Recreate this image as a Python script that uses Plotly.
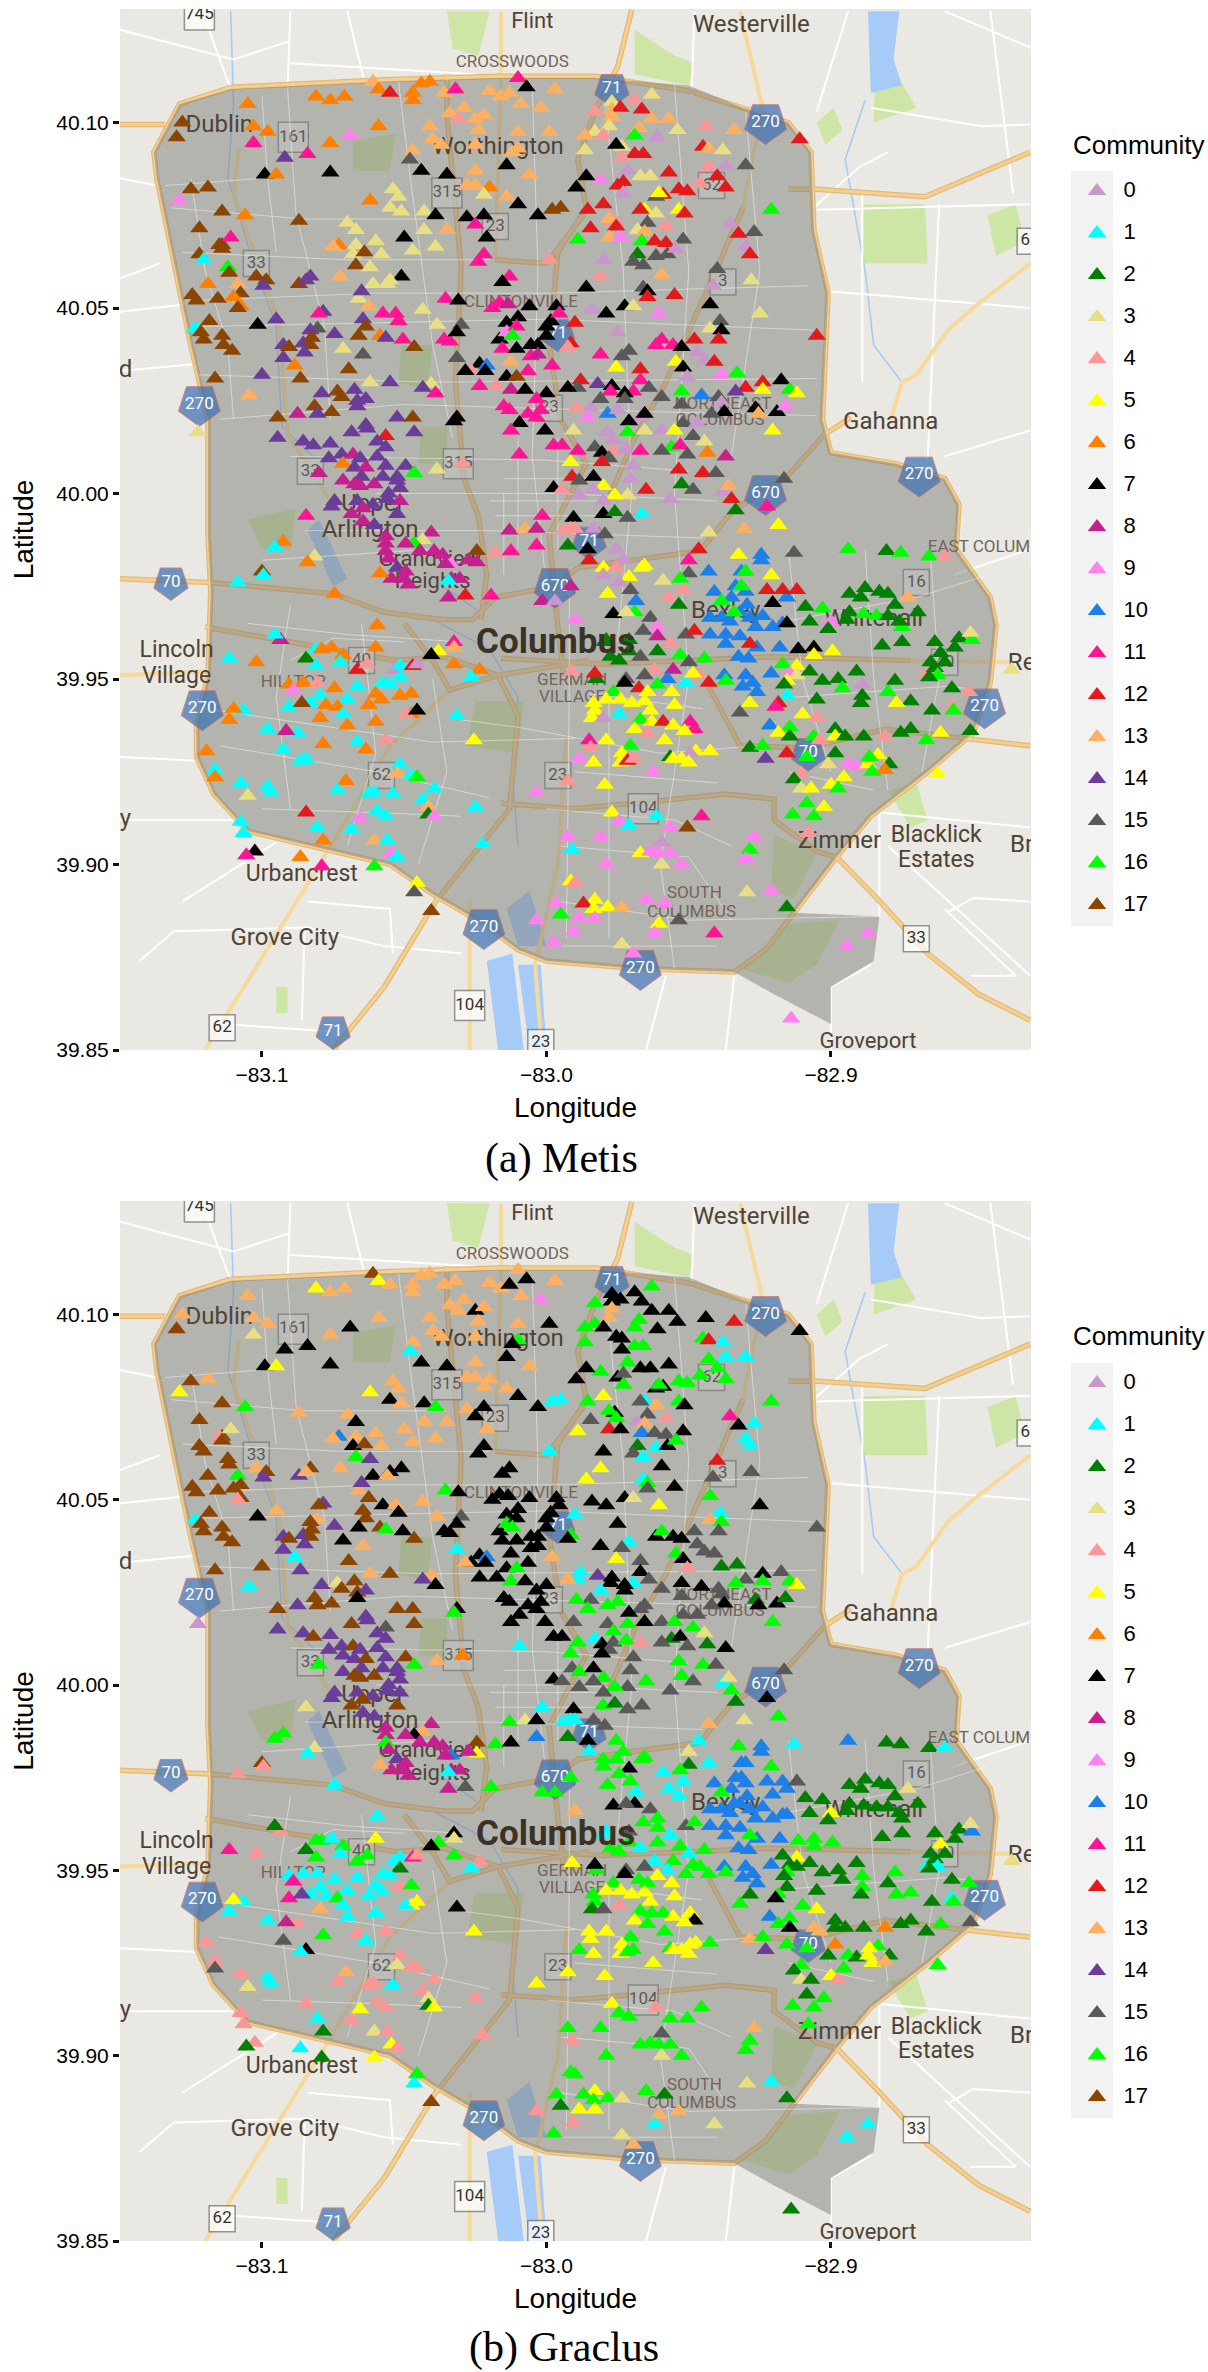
import plotly.graph_objects as go

W, H = 1208, 2372
COMMUNITIES = list(range(18))
PALETTE = ["#C997CB", "#00FFFF", "#008000", "#E8DE82", "#FB9696", "#FFFF00", "#FF7F00", "#000000", "#C5218E",
           "#FF80EE", "#1C80E8", "#FF1493", "#E31A1C", "#FDB062", "#6A3D9A", "#595959", "#00FF00", "#8B4500"]

# lon, lat, community under Metis, community under Graclus
NORTH_WEST = [
(-83.128,40.100,17,13),(-83.130,40.096,17,17),(-83.105,40.105,6,13),(-83.081,40.107,6,5),(-83.076,40.106,6,13),(-83.071,40.107,6,13),
(-83.061,40.111,13,17),(-83.059,40.109,6,5),(-83.055,40.108,12,13),(-83.047,40.108,6,13),(-83.047,40.106,6,13),(-83.044,40.1105,6,13),
(-83.041,40.111,6,13),(-83.036,40.108,13,13),(-83.032,40.109,11,13),(-83.020,40.1085,13,13),(-83.016,40.107,13,13),(-83.013,40.108,13,7),
(-83.010,40.112,11,13),(-83.007,40.1095,7,7),(-82.997,40.109,13,13),(-83.009,40.105,13,13),(-83.002,40.104,13,9),(-83.034,40.1025,13,13),
(-83.031,40.101,4,13),(-83.029,40.104,13,13),(-83.025,40.101,13,7),(-83.022,40.102,13,13),(-83.024,40.098,13,13),(-83.041,40.099,13,13),
(-83.040,40.0955,13,13),(-83.037,40.094,13,13),(-83.047,40.0925,13,13),(-83.010,40.0975,13,13),(-82.999,40.0975,13,7),(-83.010,40.093,13,16),
(-83.025,40.094,13,13),(-83.014,40.0885,7,7),(-83.012,40.092,13,7),(-83.006,40.086,13,13),(-83.025,40.087,13,13),(-83.035,40.086,7,7),
(-83.044,40.087,7,7),(-83.048,40.090,15,1),(-83.028,40.083,13,13),(-83.025,40.083,13,13),(-83.020,40.0825,6,13),(-83.022,40.0805,3,13),
(-83.014,40.080,13,13),(-83.103,40.099,6,13),(-83.098,40.0975,6,13),(-83.103,40.0945,11,3),(-83.092,40.0905,14,7),(-83.084,40.0915,11,7),
(-83.076,40.0945,6,13),(-83.069,40.0965,9,7),(-83.059,40.099,6,13),(-83.099,40.086,7,7),(-83.095,40.086,6,5),(-83.076,40.0865,7,7),
(-83.125,40.082,17,17),(-83.119,40.0825,17,13),(-83.129,40.079,9,5),(-83.114,40.076,17,17),(-83.106,40.075,6,16),(-83.122,40.0715,17,17),
(-83.087,40.0735,17,13),(-83.062,40.079,6,5),(-83.054,40.082,3,13),(-83.052,40.080,3,13),(-83.055,40.077,3,7),(-83.051,40.076,3,13),
(-83.043,40.076,3,7),(-83.039,40.075,7,16),(-83.050,40.069,7,13),(-83.043,40.071,3,13),(-83.035,40.071,13,13),(-83.039,40.0665,3,13),
(-83.047,40.0655,3,13),(-83.028,40.0745,7,13),(-83.022,40.075,7,7),(-83.010,40.078,7,7),(-83.003,40.075,7,7),(-82.998,40.0765,17,1),
(-82.995,40.077,17,1),(-83.025,40.0725,11,7),(-83.021,40.069,7,13),(-83.022,40.0645,11,7),(-83.024,40.0625,11,7),(-83.070,40.073,3,13),
(-83.067,40.071,3,7),(-83.073,40.067,6,10),(-83.075,40.0665,13,13),(-83.067,40.067,3,13),(-83.068,40.0645,3,7),(-83.060,40.068,3,13),
(-83.064,40.065,17,17),(-83.058,40.0645,3,13),(-83.114,40.067,17,17),(-83.111,40.069,11,3),(-83.115,40.067,17,4),(-83.114,40.066,17,17),
(-83.122,40.0645,17,17),(-83.1205,40.063,1,17),(-83.112,40.061,16,17),(-83.1115,40.0595,17,17),(-83.119,40.0565,6,17),(-83.1085,40.0565,13,16),
(-83.1075,40.054,17,17),(-83.102,40.0585,17,13),(-83.0985,40.0575,17,17),(-83.0995,40.056,14,14),(-83.087,40.0565,17,14),(-83.083,40.0585,14,17),
(-83.0845,40.0575,14,13),(-83.0725,40.0585,13,13),(-83.067,40.0615,17,16),(-83.062,40.061,3,14),(-83.051,40.0585,7,7),(-83.055,40.0575,3,7),
(-83.066,40.0525,3,13),(-83.061,40.0565,3,7),(-83.056,40.0565,3,13),(-83.065,40.0545,14,14),(-83.1245,40.0535,17,17),(-83.123,40.052,17,17),
(-83.1155,40.0525,17,17),(-83.110,40.053,6,17),(-83.1075,40.0505,6,17),(-83.1085,40.050,17,4),(-83.0625,40.0505,13,17),(-83.0785,40.049,14,14),
(-83.080,40.0485,11,17),(-83.0575,40.0485,11,7),(-83.053,40.0485,11,13),(-83.052,40.0465,11,7),(-83.0435,40.0495,3,13),(-83.1185,40.0465,17,17),
(-83.1235,40.0445,1,1),(-83.1215,40.0435,17,17),(-83.1015,40.0455,7,7),(-83.095,40.047,14,13),(-83.0645,40.047,14,17),(-83.0805,40.0445,15,13),
(-83.083,40.044,14,17),(-83.0745,40.043,14,14),(-83.0635,40.045,17,17),(-83.0585,40.0425,6,17),(-83.0565,40.042,14,16),(-83.0505,40.0415,11,7),
(-83.0385,40.0455,3,13),(-83.036,40.0415,11,7),(-83.034,40.041,11,7),(-83.1205,40.0415,17,17),(-83.114,40.0425,17,17),(-83.1135,40.040,17,17),
(-83.0925,40.040,14,14),(-83.0905,40.0395,17,17),(-83.0855,40.0405,14,14),(-83.0825,40.042,17,17),(-83.083,40.040,17,17),(-83.066,40.0425,17,7),
(-83.0715,40.039,3,7),(-83.0645,40.0375,15,13),(-83.0465,40.0395,17,17),(-83.1105,40.0385,17,17),(-83.0925,40.0365,14,14),(-83.085,40.038,14,14),
(-83.0885,40.0345,6,1),(-83.0695,40.0335,17,17),(-83.0315,40.0365,15,1),(-83.1,40.032,14,17),(-83.1165,40.031,17,17),(-83.0865,40.031,17,14),
(-83.062,40.030,3,13),(-83.055,40.030,14,17),(-83.0405,40.0295,3,13),(-83.039,40.027,11,7),(-83.1045,40.0265,13,1),(-83.079,40.027,14,14),
(-83.0735,40.0275,17,3),(-83.072,40.026,17,17),(-83.0675,40.028,14,17),(-83.0665,40.025,14,17),(-83.0635,40.0255,14,14),(-83.0435,40.0285,14,14),
(-83.0875,40.0215,8,14),(-83.0815,40.0235,17,17),(-83.0805,40.0215,14,17),(-83.0755,40.022,17,17),(-83.0665,40.0235,14,7),(-83.0945,40.0205,17,17),
(-83.0525,40.0205,14,17),(-83.047,40.0205,17,17),(-83.0315,40.0205,7,7),(-83.0325,40.0195,7,16),(-83.0635,40.0185,14,14),(-83.063,40.0175,14,14),
(-83.0685,40.0165,14,17),(-83.0465,40.0165,14,17),(-83.0565,40.0155,12,15),(-83.0945,40.015,14,14),(-83.1225,40.0165,3,0),(-83.0855,40.014,14,14),
(-83.082,40.013,14,17),(-83.076,40.0135,14,14),(-83.0595,40.014,14,14),(-83.0565,40.0125,14,14),(-83.0295,40.008,4,6),(-83.0765,40.0095,14,14),
(-83.072,40.0105,14,14),(-83.068,40.0105,8,17),(-83.0655,40.0095,14,14),(-83.0595,40.01,14,14),(-83.0715,40.008,6,14),(-83.0565,40.0075,14,14),
(-83.0495,40.0075,14,17),(-83.0385,40.0065,3,13),(-83.080,40.0055,8,16),(-83.0675,40.007,14,14),(-83.0635,40.007,8,17),(-83.0465,40.0055,16,16),
(-83.0715,40.0035,8,14),(-83.065,40.0045,14,14),(-83.0525,40.0045,14,14),(-83.0575,40.0045,14,14),(-83.0675,40.0025,8,17),(-83.0655,40.002,8,17),
(-83.0605,40.0025,8,17),(-83.0555,40.0,14,14),(-83.0515,40.0015,14,14),(-83.0525,40.0035,14,14),(-83.0745,39.998,14,14),(-83.0755,39.9965,14,14),
(-83.0665,39.998,14,14),(-83.061,39.997,14,14),(-83.0515,39.998,8,14),(-83.056,39.9985,14,14),(-83.0645,39.996,8,17),(-83.0685,39.9945,8,17),
(-83.0525,39.9945,14,17),(-83.0845,39.994,11,3),(-83.0645,39.9925,8,14),(-83.0605,39.9915,14,14),(-83.0405,39.9895,8,8),(-83.0925,39.987,6,16),
(-83.0955,39.9855,1,16),(-83.0815,39.983,3,3),(-83.084,39.9815,6,1),(-83.0435,39.9875,3,13),(-83.1,39.979,17,17),(-83.0995,39.978,1,4),
(-83.0565,39.9885,8,8),(-83.0565,39.9865,8,8),(-83.0465,39.9865,16,7),(-83.0495,39.9865,8,8),(-83.0565,39.9845,8,16),(-83.0445,39.9845,8,8),
(-83.0555,39.9825,8,8),(-83.0395,39.9845,8,8),(-83.0245,39.9845,17,17),(-83.018,39.984,4,16),(-83.0125,39.9845,11,7),(-83.0035,39.986,11,10),
(-83.0365,39.9835,8,8),(-83.0335,39.981,9,10),(-83.0245,39.9815,8,5),(-83.0275,39.982,8,8),(-83.0355,39.981,8,8),(-83.0525,39.980,14,14),
(-83.0495,39.979,8,8),(-83.0505,39.977,8,8),(-83.0545,39.977,8,8),(-83.0485,39.9755,8,8),(-83.0335,39.977,8,8),(-83.0305,39.977,8,8),
(-83.0585,39.9785,6,13),(-83.1085,39.976,1,4),(-83.0345,39.9765,1,1),(-83.0015,39.971,8,16),(-82.997,39.971,0,16),
]
NORTH_CENTRAL = [
(-83.013,40.0585,11,7),(-83.0155,40.057,7,7),(-83.0355,40.0525,11,16),(-83.031,40.052,7,7),(-83.0165,40.0515,11,7),(-83.019,40.050,11,7),
(-83.0135,40.051,8,7),(-83.006,40.0505,7,7),(-83.030,40.0455,15,15),(-83.0315,40.0435,7,7),(-83.014,40.046,7,7),(-83.010,40.0475,7,7),
(-83.0165,40.0415,7,7),(-83.014,40.0435,9,16),(-83.0105,40.045,11,7),(-83.012,40.0425,16,16),(-82.9985,40.0465,7,7),(-83.000,40.045,7,7),
(-83.000,40.0425,7,7),(-82.9915,40.0405,12,16),(-83.0155,40.039,11,7),(-83.0105,40.039,7,7),(-83.0055,40.040,7,7),(-83.003,40.040,7,7),
(-83.0055,40.037,11,7),(-83.003,40.0375,8,7),(-83.0235,40.035,7,7),(-83.021,40.0345,10,10),(-83.0265,40.033,4,7),(-83.0215,40.033,7,7),
(-83.0285,40.033,7,13),(-83.0125,40.0355,13,7),(-83.0065,40.033,11,7),(-82.998,40.0345,11,13),(-83.014,40.0315,7,7),(-83.0105,40.0315,17,16),
(-83.0235,40.029,11,7),(-83.0175,40.029,4,7),(-83.0125,40.028,8,16),(-83.0075,40.028,7,7),(-83.000,40.027,7,7),(-83.0035,40.0255,11,7),
(-83.015,40.0235,11,7),(-83.013,40.0225,11,7),(-83.0065,40.0215,11,7),(-83.002,40.0225,11,7),(-83.0035,40.0205,11,7),(-83.0095,40.019,7,7),
(-83.0125,40.017,11,7),(-83.0005,40.017,7,7),(-83.0095,40.0105,11,1),(-83.0015,39.994,11,1),(-83.013,39.990,8,16),(-83.0075,39.9905,13,3),
(-83.0035,39.9905,8,7),(-82.994,39.990,4,1),
]
NORTH_EAST = [
(-82.977,40.1055,3,7),(-82.977,40.1035,13,7),(-82.974,40.104,12,7),(-82.983,40.103,4,16),(-82.969,40.106,4,7),(-82.963,40.1075,3,16),
(-82.9665,40.1035,12,7),(-82.977,40.1015,13,13),(-82.963,40.101,13,7),(-82.957,40.101,13,7),(-82.9675,40.0985,13,16),(-82.978,40.099,3,13),
(-82.983,40.0975,3,16),(-82.9865,40.0965,13,16),(-82.980,40.0965,4,7),(-82.969,40.0965,16,16),(-82.961,40.096,0,7),(-82.954,40.098,3,7),
(-82.944,40.099,4,7),(-82.934,40.098,13,12),(-82.911,40.0955,12,7),(-82.945,40.0935,12,16),(-82.943,40.093,13,12),(-82.938,40.0925,3,1),
(-82.9735,40.0935,3,7),(-82.9865,40.0925,3,16),(-82.9755,40.094,7,7),(-82.969,40.0915,12,16),(-82.966,40.0915,12,16),(-82.9735,40.0905,4,7),
(-82.9715,40.0870,0,16),(-82.981,40.0845,9,16),(-82.986,40.0855,7,7),(-82.9895,40.0825,7,7),(-82.975,40.083,12,7),(-82.973,40.084,12,15),
(-82.973,40.081,0,16),(-82.967,40.0855,3,7),(-82.9635,40.0855,3,7),(-82.957,40.0865,12,7),(-82.943,40.088,4,16),(-82.937,40.0885,0,1),
(-82.930,40.0885,15,1),(-82.940,40.0855,12,16),(-82.946,40.0835,4,16),(-82.937,40.0825,12,16),(-82.9535,40.082,12,16),(-82.9505,40.0815,12,16),
(-82.959,40.0805,12,7),(-82.9615,40.080,15,7),(-82.9605,40.081,5,16),(-82.9655,40.0765,5,1),(-82.9615,40.0755,3,13),(-82.9535,40.0765,5,16),
(-82.9515,40.0755,12,7),(-82.967,40.0765,12,15),(-82.9855,40.0765,12,16),(-82.980,40.078,12,5),(-82.921,40.0765,16,16),(-82.9355,40.0725,0,11),
(-82.9325,40.070,12,7),(-82.927,40.0705,15,1),(-82.976,40.0735,4,7),(-82.978,40.074,13,16),(-82.9755,40.072,12,16),(-82.9645,40.073,15,15),
(-82.958,40.072,4,4),(-82.9845,40.0715,12,15),(-82.989,40.0685,16,5),(-82.978,40.069,13,12),(-82.974,40.069,9,7),(-82.968,40.071,3,0),
(-82.9655,40.0705,13,13),(-82.9665,40.068,16,10),(-82.962,40.068,12,15),(-82.958,40.0675,12,15),(-82.952,40.0685,15,7),(-82.930,40.0665,0,1),
(-82.9285,40.0645,12,1),(-82.980,40.063,0,7),(-82.968,40.0645,2,2),(-82.9695,40.0625,15,15),(-82.9615,40.064,15,1),(-82.9575,40.0645,15,7),
(-82.9545,40.066,0,16),(-82.966,40.0615,15,1),(-82.999,40.063,4,1),(-82.940,40.0605,15,12),(-82.928,40.0575,3,15),(-82.9415,40.056,0,15),
(-82.981,40.0585,4,5),(-82.9595,40.059,13,7),(-82.986,40.0555,7,5),(-82.966,40.0555,15,1),(-82.9645,40.0545,7,16),(-82.955,40.0535,12,7),
(-82.9645,40.053,12,15),(-82.984,40.0495,0,7),(-82.9725,40.0505,7,7),(-82.9695,40.0505,3,3),(-82.9425,40.051,7,16),(-82.9965,40.0505,7,7),
(-82.979,40.0485,7,7),(-82.9605,40.0485,9,5),(-82.925,40.0485,3,7),(-82.9955,40.0485,11,7),(-82.990,40.046,12,1),(-82.939,40.0465,15,1),
(-82.9425,40.0445,3,13),(-82.9385,40.044,7,16),(-82.975,40.0435,0,7),(-82.905,40.0425,12,15),(-82.948,40.0415,12,15),(-82.9395,40.0415,12,15),
(-82.9615,40.040,11,7),(-82.9595,40.0415,11,16),(-82.9555,40.040,11,7),(-82.9525,40.0395,7,7),(-82.9925,40.0395,4,7),(-82.981,40.0375,11,7),
(-82.971,40.0385,15,1),(-82.9735,40.037,15,15),(-82.947,40.038,0,15),(-82.9445,40.036,0,15),(-82.941,40.0355,12,15),(-82.9545,40.0355,5,16),
(-82.952,40.034,7,7),(-82.9755,40.034,5,5),(-82.967,40.0335,12,15),(-82.933,40.0325,16,2),(-82.9385,40.032,9,2),(-82.9505,40.0315,0,4),
(-82.9175,40.0305,7,15),(-82.988,40.0305,12,1),(-82.989,40.0285,15,1),(-82.9925,40.0285,7,13),(-82.982,40.0295,14,14),(-82.977,40.029,7,7),
(-82.967,40.0305,11,7),(-82.964,40.0285,15,15),(-82.930,40.0285,12,15),(-82.924,40.030,12,7),(-82.9145,40.028,16,16),(-82.924,40.028,5,16),
(-82.9335,40.0275,14,16),(-82.912,40.027,5,5),(-82.9775,40.0275,11,7),(-82.9695,40.0275,11,1),(-82.9725,40.027,7,7),(-82.9525,40.0275,16,7),
(-82.9455,40.0265,10,7),(-82.9395,40.026,15,15),(-82.981,40.0255,15,1),(-82.9725,40.0255,15,7),(-82.9595,40.026,15,15),(-82.9845,40.023,0,15),
(-82.9895,40.023,4,16),(-82.9385,40.0245,0,15),(-82.9525,40.024,15,15),(-82.9265,40.023,7,2),(-82.919,40.022,7,7),(-82.916,40.0235,9,2),
(-82.9255,40.0215,13,7),(-82.9375,40.022,7,7),(-82.942,40.0215,15,15),(-82.9785,40.0215,10,16),(-82.9855,40.0205,9,16),(-82.975,40.0225,0,16),
(-82.967,40.0205,0,15),(-82.9655,40.0215,7,15),(-82.971,40.0195,7,7),(-82.952,40.019,15,15),(-82.947,40.019,0,15),(-82.9715,40.0165,16,16),
(-82.9205,40.017,5,16),(-82.9905,40.017,3,15),(-82.9785,40.0165,0,15),(-82.9655,40.017,3,7),(-82.9595,40.017,0,15),(-82.955,40.017,5,16),
(-82.9485,40.0155,15,16),(-82.956,40.0125,16,2),(-82.9765,40.0145,0,16),(-82.983,40.0125,15,1),(-82.9975,40.013,11,7),(-82.9945,40.013,11,7),
(-82.989,40.0115,11,16),(-82.9765,40.0115,4,15),(-82.972,40.012,0,16),(-82.967,40.0115,11,4),(-82.9595,40.0115,15,15),(-82.953,40.013,11,7),
(-82.9445,40.014,3,3),(-82.9505,40.0105,15,15),(-82.9435,40.011,6,2),(-82.937,40.010,8,7),(-82.9805,40.011,7,7),(-82.978,40.0095,15,15),
(-82.9915,40.0085,5,16),(-82.9805,40.0085,12,7),(-82.9695,40.0075,0,15),(-82.9535,40.0065,12,16),(-82.945,40.0055,12,16),(-82.9405,40.0055,15,15),
(-82.991,40.0045,12,15),(-82.9885,40.0035,15,16),(-82.9835,40.0045,7,7),(-82.9705,40.004,0,15),(-82.980,40.002,5,16),(-82.9975,40.0015,7,7),
(-82.9945,40.001,4,15),(-82.965,40.001,12,16),(-82.9525,40.0025,2,16),(-82.9485,40.001,15,15),(-82.938,40.0005,0,1),(-82.936,40.002,13,3),
(-82.9165,40.004,15,15),(-82.9835,40.001,0,15),(-82.9715,39.9995,3,15),(-82.976,39.9995,5,16),(-82.9885,39.9995,0,15),(-82.935,39.9985,12,16),
(-82.9565,39.9985,0,15),(-82.980,39.998,0,15),(-82.9225,39.9965,11,7),(-82.9335,39.9955,2,2),(-82.980,39.9945,7,16),(-82.976,39.995,2,2),
(-82.9715,39.9935,15,15),(-82.9665,39.9945,1,15),(-82.9185,39.9915,5,16),(-82.9905,39.9935,7,7),(-82.9835,39.9905,0,15),(-82.9915,39.9905,4,1),
(-82.99,39.9905,4,1),(-82.9305,39.9905,13,3),(-82.943,39.9895,3,13),(-82.9795,39.989,15,15),(-82.9925,39.986,2,2),(-82.9855,39.985,7,7),
(-82.9755,39.985,0,16),(-82.9465,39.985,12,1),(-82.9325,39.9835,5,16),(-82.9245,39.9835,10,10),(-82.913,39.984,15,1),(-82.894,39.985,16,10),
(-82.8805,39.9845,2,2),(-82.8755,39.984,16,2),(-82.8655,39.983,16,2),(-82.860,39.983,4,1),(-82.950,39.982,11,3),(-82.985,39.982,12,1),
(-82.973,39.982,0,16),(-82.9665,39.980,5,16),
]
EAST = [
(-82.980,39.980,5,16),(-82.9755,39.980,4,16),(-82.980,39.978,0,16),(-82.971,39.9775,5,7),(-82.9655,39.9805,5,16),(-82.950,39.9785,15,2),
(-82.943,39.979,10,1),(-82.9915,39.975,8,16),(-82.9785,39.973,5,16),(-82.9745,39.976,0,16),(-82.9705,39.974,15,16),(-82.9685,39.971,10,1),
(-82.959,39.9765,3,1),(-82.953,39.977,16,16),(-82.952,39.974,4,1),(-82.941,39.9735,10,10),(-82.957,39.972,4,1),(-82.9535,39.970,2,1),
(-82.9765,39.9675,7,7),(-82.990,39.966,9,13),(-82.969,39.968,16,7),(-82.9635,39.9665,15,15),(-82.972,39.968,3,15),(-82.9795,39.96,2,1),
(-82.9315,39.979,10,10),(-82.9335,39.975,10,10),(-82.930,39.9735,10,10),(-82.935,39.972,10,10),(-82.9295,39.970,10,10),(-82.932,39.968,10,10),
(-82.9285,39.9665,10,10),(-82.9425,39.9665,10,10),(-82.9385,39.9665,10,10),(-82.9355,39.9655,10,10),(-82.9265,39.964,10,10),(-82.9425,39.962,10,10),
(-82.937,39.962,10,10),(-82.932,39.9615,10,10),(-82.924,39.967,10,10),(-82.9205,39.964,10,10),(-82.917,39.965,10,10),(-82.9155,39.972,10,10),
(-82.9245,39.982,10,10),(-82.937,39.9595,10,10),(-82.9325,39.956,10,10),(-82.929,39.9555,10,10),(-82.926,39.9585,10,10),(-82.918,39.9585,10,10),
(-82.921,39.9515,10,10),(-82.930,39.951,10,10),(-82.9275,39.949,10,10),(-82.931,39.948,10,10),(-82.926,39.9465,10,10),(-82.9375,39.951,10,10),
(-82.930,39.979,16,10),(-82.9315,39.975,16,10),(-82.9385,39.971,16,16),(-82.934,39.968,16,10),(-82.921,39.978,5,16),(-82.9225,39.974,12,10),
(-82.917,39.974,12,10),(-82.912,39.974,12,15),(-82.9205,39.9705,7,10),(-82.9155,39.965,7,10),(-82.9285,39.9595,12,16),(-82.909,39.9695,2,2),
(-82.903,39.969,16,2),(-82.9075,39.9655,2,2),(-82.900,39.9655,9,5),(-82.901,39.9635,2,2),(-82.8935,39.973,2,2),(-82.888,39.9745,2,2),
(-82.8895,39.972,2,2),(-82.883,39.9735,2,2),(-82.880,39.973,2,2),(-82.8775,39.970,2,2),(-82.8935,39.968,2,2),(-82.8885,39.9675,16,2),
(-82.884,39.967,16,2),(-82.880,39.967,2,2),(-82.875,39.964,16,2),(-82.876,39.9655,2,2),(-82.8695,39.968,2,2),(-82.873,39.972,13,3),
(-82.8945,39.966,2,2),(-82.882,39.959,2,2),(-82.875,39.960,2,2),(-82.8635,39.96,2,2),(-82.855,39.961,2,2),(-82.8505,39.9605,16,10),
(-82.851,39.9625,3,3),(-82.8615,39.957,2,5),(-82.866,39.9515,4,1),(-82.865,39.9545,2,2),(-82.8635,39.953,2,2),(-82.8565,39.9585,2,2),
(-82.8625,39.951,16,1),(-82.8655,39.9505,2,2),(-82.860,39.9545,2,2),(-82.8365,39.9525,3,3),(-82.9115,39.958,7,16),(-82.906,39.9585,7,16),
(-82.8995,39.9575,5,16),(-82.906,39.9565,5,16),(-82.912,39.9535,5,5),(-82.917,39.954,16,2),(-82.9145,39.9515,9,2),(-82.912,39.951,3,2),
(-82.9155,39.9495,5,16),(-82.9075,39.952,2,2),(-82.903,39.9495,2,2),(-82.8975,39.950,2,2),(-82.891,39.952,2,2),(-82.9165,39.9485,2,2),
(-82.896,39.9475,16,2),(-82.8775,39.9495,2,16),(-82.889,39.9485,0,16),(-82.880,39.9465,16,2),(-82.889,39.9455,2,16),(-82.9155,39.9455,1,2),
(-82.8575,39.9475,2,2),(-82.8515,39.9465,4,16),(-82.872,39.944,2,16),(-82.9185,39.9435,12,16),(-82.9195,39.9425,11,7),(-82.905,39.9445,2,2),
(-82.8895,39.9435,2,2),(-82.877,39.9435,5,16),(-82.8645,39.9415,2,2),(-82.8575,39.9425,4,1),(-82.857,39.9415,16,16),(-82.932,39.941,15,16),
(-82.9285,39.9435,5,2),(-82.910,39.9405,5,16),(-82.905,39.9395,4,5),(-82.9215,39.9375,10,10),(-82.8985,39.9365,2,2),(-82.881,39.9345,4,6),
(-82.8755,39.9355,2,2),(-82.872,39.9365,2,2),(-82.8615,39.9355,5,16),(-82.851,39.936,2,15),(-82.9145,39.937,16,16),(-82.9185,39.9355,5,16),
(-82.9145,39.9345,2,7),(-82.906,39.9345,16,13),(-82.904,39.9335,4,13),(-82.8985,39.9345,5,2),(-82.8885,39.9345,2,2),(-82.895,39.9345,2,2),
(-82.8665,39.9335,16,2),(-82.9285,39.9315,2,13),(-82.924,39.932,16,16),(-82.9155,39.930,12,16),(-82.9085,39.929,16,16),(-82.8985,39.930,2,6),
(-82.923,39.9285,14,14),(-82.901,39.927,3,2),(-82.894,39.927,9,16),(-82.891,39.9265,9,2),(-82.887,39.927,5,5),(-82.8835,39.9295,5,16),
(-82.8795,39.927,2,2),(-82.8865,39.929,16,5),(-82.8855,39.925,16,5),(-82.881,39.9255,6,13),(-82.9105,39.9245,4,16),(-82.913,39.923,2,2),
(-82.8955,39.9235,5,16),(-82.8625,39.9245,5,16),(-82.900,39.9215,5,5),(-82.9105,39.9205,3,3),(-82.907,39.9205,5,2),(-82.8975,39.9205,16,4),
(-82.9085,39.9165,16,2),(-82.9025,39.9155,5,16),(-82.9135,39.9135,16,16),(-82.906,39.913,16,16),(-82.908,39.9085,4,16),(-82.927,39.9075,9,13),
(-82.9285,39.904,16,16),(-82.930,39.9015,9,16),(-82.921,39.893,9,1),(-82.9295,39.8925,3,3),(-82.9155,39.8885,2,2),(-82.887,39.8815,9,1),
(-82.8945,39.878,9,1),(-82.914,39.8585,9,2),
]
SOUTH_CENTRAL = [
(-82.979,39.9605,2,1),(-82.9775,39.956,2,16),(-82.9745,39.955,2,16),(-82.971,39.9605,2,15),(-82.971,39.9575,2,16),(-82.966,39.963,15,16),
(-82.967,39.956,15,1),(-82.961,39.964,9,16),(-82.961,39.9615,8,16),(-82.961,39.9575,2,16),(-82.9565,39.9595,4,1),(-82.951,39.962,15,15),
(-82.948,39.963,12,16),(-82.953,39.9565,16,16),(-82.9445,39.9555,16,16),(-82.950,39.9545,15,1),(-82.9555,39.9525,8,16),(-82.962,39.9525,4,1),
(-82.9655,39.951,15,15),(-82.972,39.950,15,15),(-82.991,39.952,4,5),(-82.9825,39.950,2,16),(-82.983,39.9515,12,7),(-82.9725,39.949,7,7),
(-82.9575,39.950,10,1),(-82.951,39.949,1,16),(-82.946,39.951,4,16),(-82.943,39.949,12,16),(-82.9485,39.9515,5,16),(-82.937,39.9495,16,16),
(-82.9675,39.9475,12,16),(-82.961,39.9485,16,5),(-82.9765,39.9465,16,16),(-82.956,39.9465,5,5),(-82.9835,39.9435,5,16),(-82.979,39.9445,5,5),
(-82.974,39.9445,5,5),(-82.970,39.9435,5,5),(-82.9645,39.9465,5,16),(-82.9655,39.944,5,5),(-82.955,39.943,5,5),(-82.983,39.9415,5,16),
(-82.9745,39.9405,1,4),(-82.984,39.9395,5,2),(-82.980,39.9395,0,15),(-82.9635,39.9415,5,5),(-82.967,39.939,16,16),(-82.963,39.9385,5,16),
(-82.959,39.9385,12,16),(-82.9495,39.9385,11,5),(-82.948,39.9365,11,7),(-82.969,39.9365,5,5),(-82.9555,39.9375,5,5),(-82.9515,39.936,5,5),
(-82.9645,39.9355,4,16),(-82.9585,39.9335,5,16),(-82.9475,39.9305,5,5),(-82.9425,39.9305,5,16),(-82.985,39.9335,11,5),(-82.979,39.9335,5,5),
(-82.9845,39.9315,4,5),(-82.9705,39.932,16,16),(-82.9735,39.930,5,5),(-82.9495,39.930,0,5),(-82.9565,39.929,2,16),(-82.9885,39.9285,9,16),
(-82.9835,39.9275,5,5),(-82.974,39.9275,5,5),(-82.9715,39.928,12,16),(-82.9695,39.9285,4,16),(-82.9555,39.9285,5,5),(-82.9525,39.9285,5,5),
(-82.950,39.9275,5,5),(-82.9625,39.925,9,5),(-82.9925,39.9225,4,5),(-82.9795,39.9215,5,5),(-83.0035,39.9195,9,5),(-82.977,39.914,5,5),
(-82.9745,39.9115,9,16),(-82.971,39.9105,1,16),(-82.9615,39.913,1,4),(-82.9565,39.910,9,16),(-82.9505,39.910,17,16),(-82.9455,39.913,11,16),
(-82.9925,39.9075,9,16),(-82.981,39.9075,9,16),(-82.991,39.904,1,4),(-82.9595,39.906,0,15),(-82.967,39.903,5,16),(-82.9635,39.9035,9,16),
(-82.9605,39.903,9,16),(-82.9565,39.903,9,16),(-82.979,39.900,9,16),(-82.9525,39.900,9,16),(-82.9595,39.9,3,3),(-82.9915,39.8955,5,16),
(-82.990,39.895,4,16),(-82.983,39.8905,5,5),(-82.965,39.8905,9,16),(-82.9585,39.8895,9,2),(-82.987,39.8895,12,16),(-82.9965,39.8895,9,16),
(-82.9835,39.888,5,16),(-82.9785,39.8885,5,16),(-82.9735,39.8885,13,3),(-82.995,39.8865,16,2),(-82.9885,39.8855,9,5),(-82.983,39.8855,9,5),
(-82.9535,39.885,15,13),(-82.9605,39.884,5,13),(-83.0035,39.885,9,4),(-82.941,39.8815,11,3),(-82.962,39.8815,9,1),(-82.9905,39.882,9,4),
(-82.9975,39.879,9,16),(-82.9735,39.8785,3,3),(-82.9695,39.876,9,13),
]
SOUTH_WEST = [
(-83.0745,39.973,6,1),(-83.0345,39.972,8,8),(-83.0285,39.9725,12,15),(-83.0195,39.9725,11,16),(-83.0935,39.9605,8,4),(-83.0955,39.962,1,2),
(-83.0595,39.9645,6,1),(-83.0325,39.960,11,7),(-83.0325,39.9585,13,3),(-83.038,39.9575,5,16),(-83.0405,39.9565,7,7),(-83.1115,39.9555,1,11),
(-83.102,39.9545,6,4),(-83.0845,39.9555,2,2),(-83.081,39.958,1,16),(-83.079,39.958,6,16),(-83.0755,39.9585,6,1),(-83.0715,39.9565,6,16),
(-83.060,39.9585,6,5),(-83.0725,39.9545,1,1),(-83.081,39.9535,1,16),(-83.0665,39.9525,12,16),(-83.063,39.954,4,16),(-83.0535,39.9525,0,1),
(-83.0515,39.9535,1,1),(-83.047,39.9535,12,11),(-83.0455,39.954,0,4),(-83.0325,39.954,6,16),(-83.0235,39.9525,6,4),(-83.0515,39.9505,1,2),
(-83.0265,39.9505,1,1),(-83.0905,39.9485,6,1),(-83.0855,39.949,6,1),(-83.0805,39.949,4,1),(-83.089,39.947,9,11),(-83.0745,39.9475,6,1),
(-83.0665,39.948,1,1),(-83.0575,39.949,1,1),(-83.055,39.9485,1,1),(-83.060,39.946,6,1),(-83.058,39.9445,6,1),(-83.0515,39.9455,6,4),
(-83.0475,39.946,6,16),(-83.070,39.9445,1,1),(-83.0795,39.9455,1,1),(-83.083,39.9435,1,1),(-83.0775,39.943,6,1),(-83.0905,39.9425,1,11),
(-83.086,39.9435,17,14),(-83.0735,39.9425,6,16),(-83.0625,39.943,6,1),(-83.1065,39.9415,1,1),(-83.110,39.942,6,5),(-83.1115,39.939,6,1),
(-83.0715,39.9405,1,1),(-83.0795,39.9395,6,13),(-83.0475,39.9405,6,5),(-83.0495,39.9405,4,1),(-83.0455,39.9415,7,5),(-83.0315,39.94,1,7),
(-83.060,39.9385,6,1),(-83.070,39.9375,6,1),(-83.098,39.9365,1,1),(-83.0875,39.9355,1,4),(-83.0915,39.936,8,8),(-83.0565,39.9335,4,4),
(-83.0665,39.933,1,4),(-83.0785,39.9325,6,16),(-83.0925,39.931,1,15),(-83.0255,39.9335,5,5),(-83.1195,39.9305,6,4),(-83.0635,39.931,6,1),
(-83.0845,39.9285,1,7),(-83.0865,39.928,1,1),(-83.1165,39.9255,1,4),(-83.0515,39.927,1,4),(-83.0525,39.9245,13,3),(-83.0475,39.924,1,4),
(-83.0455,39.9235,16,4),(-83.1165,39.9235,6,15),(-83.0705,39.9225,6,13),(-83.1075,39.922,1,4),(-83.098,39.921,1,1),(-83.097,39.9195,1,1),
(-83.105,39.9185,3,3),(-83.0735,39.920,1,4),(-83.0625,39.919,1,4),(-83.0605,39.9195,1,4),(-83.054,39.919,1,1),(-83.0395,39.9205,1,4),
(-83.0435,39.9175,1,4),(-83.0415,39.9155,13,3),(-83.025,39.9155,1,4),(-83.0845,39.914,12,4),(-83.0415,39.9135,2,2),(-83.0655,39.9125,9,5),
(-83.0595,39.9145,1,4),(-83.0565,39.913,1,4),(-83.0395,39.913,9,5),(-83.1075,39.9115,1,4),(-83.0805,39.910,1,1),(-83.0685,39.9095,1,4),
(-83.0225,39.9055,1,4),(-83.1065,39.9085,1,4),(-83.0785,39.9065,6,2),(-83.0605,39.9065,13,3),(-83.056,39.9065,1,4),(-83.1025,39.9035,7,4),
(-83.1055,39.9025,11,2),(-83.0865,39.902,6,1),(-83.0545,39.903,9,5),(-83.0525,39.902,1,4),(-83.079,39.8995,11,2),(-83.0605,39.8995,16,5),
(-83.0455,39.895,5,16),(-83.0465,39.8925,15,1),(-83.0405,39.8875,17,17),
]
STATIONS = NORTH_WEST + NORTH_CENTRAL + NORTH_EAST + EAST + SOUTH_CENTRAL + SOUTH_WEST
LON = [r[0] for r in STATIONS]
LAT = [r[1] for r in STATIONS]
METIS = [r[2] for r in STATIONS]
GRACLUS = [r[3] for r in STATIONS]

XLIM = [-83.1499, -82.8297]
YLIM = [39.85, 40.1306]
X_TICKS = [-83.1, -83.0, -82.9]
Y_TICKS = [39.85, 39.90, 39.95, 40.00, 40.05, 40.10]

# ---- base map (lon/lat polylines) ----
SERVICE_AREA = [(-83.111,40.109),(-83.057,40.111),(-83.017,40.112),(-82.983,40.112),(-82.950,40.110),(-82.931,40.104),(-82.915,40.100),(-82.907,40.092),
(-82.906,40.071),(-82.901,40.054),(-82.903,40.020),(-82.900,40.011),(-82.877,40.008),(-82.860,40.004),(-82.855,39.997),(-82.856,39.985),
(-82.844,39.972),(-82.842,39.9645),(-82.844,39.949),(-82.850,39.9355),(-82.866,39.925),(-82.886,39.913),(-82.898,39.902),(-82.913,39.887),
(-82.883,39.886),(-82.885,39.874),(-82.900,39.867),(-82.900,39.857),(-82.920,39.865),(-82.934,39.871),(-82.969,39.872),(-83.000,39.874),
(-83.010,39.877),(-83.022,39.884),(-83.040,39.892),(-83.055,39.900),(-83.105,39.909),(-83.117,39.919),(-83.123,39.929),(-83.123,39.938),
(-83.119,39.951),(-83.118,39.9735),(-83.119,39.989),(-83.119,40.020),(-83.125,40.040),(-83.137,40.085),(-83.138,40.092),(-83.129,40.105),(-83.111,40.109)]
PARKS = [
 [(-82.889,40.078),(-82.867,40.078),(-82.866,40.062),(-82.889,40.062)],
 [(-82.969,40.125),(-82.955,40.118),(-82.948,40.116),(-82.950,40.110),(-82.969,40.113)],
 [(-82.905,40.100),(-82.899,40.104),(-82.896,40.098),(-82.902,40.094)],
 [(-83.035,40.130),(-83.020,40.130),(-83.024,40.118),(-83.033,40.120)],
 [(-82.932,39.872),(-82.915,39.884),(-82.897,39.885),(-82.905,39.873),(-82.915,39.868)],
 [(-82.920,39.908),(-82.905,39.903),(-82.913,39.891),(-82.921,39.893)],
 [(-82.845,40.075),(-82.835,40.078),(-82.832,40.068),(-82.842,40.064)],
 [(-83.105,39.993),(-83.088,39.996),(-83.090,39.985),(-83.100,39.985)],
 [(-83.068,40.095),(-83.053,40.097),(-83.055,40.087),(-83.068,40.087)],
 [(-83.051,40.040),(-83.040,40.040),(-83.042,40.028),(-83.052,40.030)],
 [(-83.044,40.018),(-83.035,40.018),(-83.035,40.008),(-83.045,40.008)],
 [(-83.025,39.944),(-83.008,39.944),(-83.010,39.930),(-83.028,39.932)],
 [(-83.095,39.867),(-83.091,39.867),(-83.091,39.860),(-83.095,39.860)],
 [(-82.884,40.122),(-82.870,40.104),(-82.885,40.100)],
 [(-82.880,39.920),(-82.870,39.922),(-82.866,39.912),(-82.872,39.910)],
]
WATER = [
 [(-82.887,40.130),(-82.876,40.130),(-82.878,40.117),(-82.875,40.110),(-82.886,40.108)],
 [(-83.021,39.874),(-83.012,39.876),(-83.008,39.850),(-83.017,39.850)],
 [(-83.014,39.888),(-83.006,39.893),(-83.000,39.878),(-83.010,39.878)],
 [(-83.010,39.873),(-83.002,39.873),(-83.000,39.850),(-83.006,39.850)],
 [(-83.042,39.978),(-83.035,39.974),(-83.020,39.966),(-83.030,39.972)],
 [(-83.084,39.990),(-83.075,39.975),(-83.070,39.977),(-83.080,39.993)],
]
RIVERS = [
 [(-83.111,40.130),(-83.110,40.105),(-83.112,40.085),(-83.105,40.067),(-83.095,40.045),(-83.093,40.018),(-83.082,40.010)],
 [(-82.888,40.106),(-82.895,40.090),(-82.888,40.060),(-82.885,40.040),(-82.875,40.030)],
 [(-83.040,39.966),(-83.020,39.958),(-83.010,39.945),(-83.012,39.925),(-83.010,39.905)],
]
HIGHWAYS = [
 [(-83.111,40.1095),(-83.057,40.1115),(-83.017,40.1125),(-82.983,40.1125),(-82.950,40.1085),(-82.931,40.104),(-82.915,40.100),(-82.907,40.092),(-82.906,40.071),
  (-82.901,40.054),(-82.903,40.020),(-82.900,40.011),(-82.877,40.008),(-82.860,40.004),(-82.855,39.997),(-82.856,39.985),(-82.844,39.972),(-82.842,39.9645),
  (-82.844,39.949),(-82.850,39.9355),(-82.866,39.925),(-82.886,39.913),(-82.898,39.902),(-82.913,39.887),(-82.923,39.877),(-82.934,39.871),(-82.969,39.872),
  (-83.000,39.874),(-83.010,39.877),(-83.022,39.884),(-83.040,39.892),(-83.055,39.900),(-83.105,39.909),(-83.117,39.919),(-83.123,39.929),(-83.123,39.938),
  (-83.119,39.951),(-83.118,39.9735),(-83.119,39.989),(-83.119,40.020),(-83.125,40.040),(-83.137,40.085),(-83.138,40.092),(-83.129,40.105),(-83.111,40.1095)],
 [(-83.150,39.977),(-83.118,39.976),(-83.075,39.973),(-83.057,39.968),(-83.036,39.966),(-83.026,39.966),(-83.018,39.972),(-82.997,39.975),(-82.989,39.980),(-82.946,39.9845),(-82.935,39.995),(-82.915,40.005),(-82.901,40.017)],
 [(-83.016,39.9556),(-82.980,39.954),(-82.921,39.956),(-82.872,39.955)],
 [(-82.943,39.948),(-82.932,39.932),(-82.908,39.9315),(-82.881,39.9365),(-82.853,39.934),(-82.830,39.932)],
 [(-82.970,40.1304),(-82.975,40.115),(-82.983,40.103),(-82.989,40.090),(-82.986,40.077),(-82.996,40.065),(-82.999,40.040),(-82.995,40.020),(-82.986,40.008),(-82.999,39.989),(-82.997,39.971),(-82.994,39.951)],
 [(-83.017,39.951),(-83.010,39.940),(-83.013,39.915),(-83.039,39.890),(-83.057,39.867),(-83.075,39.850)],
 [(-83.035,40.113),(-83.035,40.102),(-83.030,40.061),(-83.032,40.030),(-83.029,40.004),(-83.024,39.994),(-83.021,39.978),(-83.023,39.966)],
 [(-82.915,40.082),(-82.905,40.082),(-82.867,40.080),(-82.830,40.092)],
 [(-83.150,40.0995),(-83.134,40.0995)],
 [(-83.018,40.063),(-83.000,40.062),(-82.987,40.075)],
 [(-82.898,39.902),(-82.884,39.891),(-82.866,39.876),(-82.848,39.865),(-82.830,39.858)],
 [(-83.016,39.9165),(-82.991,39.915),(-82.969,39.9165),(-82.937,39.919),(-82.920,39.9176),(-82.920,39.912),(-82.905,39.9035),(-82.898,39.902)],
 [(-82.931,40.077),(-82.940,40.061),(-82.958,40.030),(-82.969,40.015),(-82.978,39.999)],
 [(-83.120,39.964),(-83.053,39.955),(-83.036,39.956),(-83.017,39.951),(-82.985,39.955)],
 [(-83.050,39.965),(-83.040,39.955),(-83.034,39.947),(-83.017,39.951)],
 [(-82.901,40.0165),(-82.893,40.0205)],
]
LIGHT_HIGHWAYS = [
 [(-83.016,40.130),(-83.016,40.112),(-83.018,40.063)],
 [(-82.932,40.130),(-82.924,40.104),(-82.931,40.077)],
 [(-82.830,40.062),(-82.850,40.050),(-82.859,40.044),(-82.870,40.032),(-82.875,40.030),(-82.879,40.020)],
 [(-83.120,39.850),(-83.075,39.906),(-83.055,39.932),(-83.034,39.947)],
 [(-83.027,39.850),(-83.027,39.890)],
 [(-83.002,39.854),(-83.004,39.873),(-82.996,39.900),(-82.993,39.935)],
 [(-83.108,40.093),(-83.110,40.081),(-83.094,40.046),(-83.091,40.016),(-83.076,39.998)],
 [(-83.150,39.951),(-83.120,39.952)],
 [(-82.837,39.9545),(-82.872,39.955)],
]
WHITE_ROADS = [
 [(-82.901,40.0545),(-82.830,40.050)],[(-82.862,40.078),(-82.866,40.009)],[(-82.844,40.130),(-82.836,40.081)],
 [(-82.886,40.104),(-82.847,40.099),(-82.830,40.0995)],[(-82.948,40.130),(-82.949,40.107)],[(-82.894,40.130),(-82.905,40.103)],
 [(-82.889,40.082),(-82.889,40.030)],[(-82.907,40.0765),(-82.890,40.088),(-82.880,40.092)],
 [(-83.121,40.130),(-83.111,40.109)],[(-83.090,40.130),(-83.091,40.109)],[(-83.070,40.130),(-83.064,40.111)],[(-83.150,40.125),(-83.110,40.117),(-83.090,40.122)],
 [(-83.090,40.116),(-83.025,40.113)],[(-83.150,40.085),(-83.137,40.083)],[(-83.150,40.058),(-83.136,40.062)],[(-83.150,40.049),(-83.126,40.051)],
 [(-83.150,40.033),(-83.122,40.035)],[(-83.150,39.929),(-83.123,39.928)],[(-83.150,39.912),(-83.109,39.912)],[(-83.131,39.882),(-83.084,39.883),(-83.057,39.878),(-83.030,39.876)],
 [(-83.143,39.874),(-83.131,39.882)],[(-83.128,39.890),(-83.095,39.906)],[(-83.084,39.890),(-83.055,39.888),(-83.054,39.876)],[(-83.114,39.857),(-83.075,39.855)],
 [(-83.085,39.882),(-83.086,39.858)],[(-82.883,39.914),(-82.830,39.910)],[(-82.883,39.886),(-82.883,39.915)],[(-82.886,39.873),(-82.900,39.867),(-82.900,39.850)],
 [(-82.859,39.887),(-82.850,39.891),(-82.830,39.890)],[(-82.851,39.870),(-82.835,39.870),(-82.860,39.888)],[(-82.880,39.905),(-82.830,39.870)],
 [(-82.958,39.870),(-82.965,39.850)],[(-82.934,39.870),(-82.937,39.850)],[(-82.820,40.117),(-82.860,40.130)],[(-82.860,40.010),(-82.830,40.017)],
 [(-82.857,39.978),(-82.830,39.985)],[(-82.905,40.0765),(-82.830,40.078)],
]
TRACTS = [
 [(-83.134,40.083),(-83.100,40.085)],[(-83.132,40.077),(-83.085,40.074),(-83.035,40.074)],[(-83.128,40.065),(-83.070,40.063),(-83.020,40.063)],
 [(-83.125,40.052),(-83.060,40.054),(-83.000,40.054),(-82.908,40.056)],[(-83.122,40.045),(-83.000,40.047),(-82.905,40.044)],[(-83.122,40.032),(-83.040,40.030),(-82.905,40.031)],
 [(-83.115,40.020),(-83.050,40.024),(-82.960,40.022),(-82.905,40.021)],[(-83.090,40.010),(-83.000,40.009),(-82.950,40.006)],[(-83.060,40.000),(-82.995,40.000),(-82.940,39.998)],
 [(-83.085,39.990),(-83.020,39.990),(-82.945,39.988)],[(-83.100,39.982),(-83.040,39.985)],[(-83.105,39.965),(-83.070,39.962),(-83.030,39.960)],
 [(-83.090,39.955),(-83.075,39.961),(-83.050,39.960)],[(-83.120,39.942),(-83.085,39.938),(-83.040,39.933),(-82.990,39.934)],[(-83.115,39.932),(-83.060,39.925),(-83.020,39.918)],
 [(-83.100,39.915),(-83.060,39.914),(-83.030,39.913)],[(-83.030,39.939),(-83.010,39.937),(-82.960,39.930),(-82.925,39.932)],[(-83.000,39.915),(-82.955,39.912),(-82.935,39.905)],
 [(-82.995,39.905),(-82.950,39.902),(-82.935,39.885)],[(-82.995,39.890),(-82.950,39.885),(-82.883,39.886)],[(-82.995,39.878),(-82.940,39.878)],
 [(-82.915,39.945),(-82.860,39.948),(-82.845,39.947)],[(-82.920,39.965),(-82.870,39.972),(-82.845,39.978)],[(-82.915,39.925),(-82.885,39.920)],
 [(-83.100,40.107),(-83.098,40.085),(-83.095,40.065)],[(-83.091,40.109),(-83.088,40.075),(-83.078,40.045),(-83.076,40.020)],[(-83.052,40.111),(-83.047,40.080),(-83.040,40.040),(-83.033,40.015)],
 [(-83.125,40.085),(-83.120,40.060),(-83.112,40.040),(-83.110,40.020)],[(-83.005,40.110),(-83.003,40.060),(-83.005,40.010),(-83.000,39.975)],[(-82.980,40.110),(-82.973,40.060),(-82.970,40.000),(-82.975,39.960)],
 [(-82.955,40.110),(-82.950,40.060),(-82.955,40.000),(-82.950,39.950),(-82.960,39.900),(-82.955,39.872)],[(-82.930,40.103),(-82.925,40.060),(-82.935,40.010)],
 [(-82.915,39.985),(-82.910,39.950),(-82.900,39.925)],[(-82.888,39.985),(-82.885,39.950),(-82.880,39.920)],[(-82.865,39.983),(-82.862,39.950),(-82.868,39.925)],
 [(-83.090,39.970),(-83.095,39.945),(-83.090,39.915)],[(-83.065,39.965),(-83.060,39.930),(-83.070,39.905)],[(-83.040,39.950),(-83.035,39.925),(-83.045,39.900)],
 [(-82.992,39.975),(-82.992,39.945),(-82.993,39.880)],[(-83.015,40.000),(-83.015,39.978)],[(-82.978,39.945),(-82.978,39.880)],
 [(-83.020,39.998),(-82.980,39.998)],[(-83.018,39.994),(-82.978,39.994)],[(-83.015,40.004),(-82.985,40.004)],[(-83.010,40.015),(-83.010,39.985)],[(-82.996,40.015),(-82.996,39.985)],
 [(-82.985,39.946),(-82.945,39.942)],[(-82.990,39.925),(-82.940,39.922)],
]
LABELS = [("Flint",-83.005,40.127,22),("Westerville",-82.928,40.126,24),("Dublin",-83.115,40.099,24),("Worthington",-83.017,40.093,24),
 ("Gahanna",-82.879,40.019,24),("Upper",-83.061,39.997,24),("Arlington",-83.062,39.990,24),("Grandview",-83.041,39.982,22),("Heights",-83.040,39.976,22),
 ("Lincoln",-83.130,39.9575,23),("Village",-83.130,39.9505,23),("Bexley",-82.937,39.968,24),("Whitehall",-82.885,39.966,24),("Urbancrest",-83.086,39.897,23),
 ("Grove City",-83.092,39.880,24),("Zimmer",-82.897,39.906,24),("Blacklick",-82.863,39.9075,23),("Estates",-82.863,39.901,23),("Br",-82.833,39.905,24),
 ("Re",-82.833,39.954,24),("Groveport",-82.887,39.852,22),("d",-83.148,40.033,24),("y",-83.148,39.912,24)]
SMALL_LABELS = [("CROSSWOODS",-83.012,40.116),("CLINTONVILLE",-83.009,40.0515),("NORTHEAST",-82.938,40.024),("COLUMBUS",-82.939,40.0197),
 ("EAST COLUM",-82.848,39.9855),("HILLTOP",-83.089,39.949),("GERMAN",-82.991,39.9495),("VILLAGE",-82.991,39.945),("SOUTH",-82.948,39.892),("COLUMBUS",-82.949,39.887)]
INTERSTATES = [("71",-82.977,40.109),("270",-82.923,40.100),("270",-82.869,40.005),("670",-82.923,40.000),("71",-82.985,39.987),("670",-82.997,39.975),
 ("71",-82.996,40.043),("270",-83.121,39.942),("270",-83.022,39.883),("71",-83.075,39.855),("270",-82.967,39.872),("270",-82.846,39.9425),("70",-82.908,39.930),
 ("270",-83.122,40.024),("70",-83.132,39.976)]
SHIELDS = [("745",-83.122,40.129),("161",-83.089,40.096),("315",-83.035,40.081),("23",-83.018,40.072),("33",-83.102,40.062),("33",-83.083,40.006),("315",-83.031,40.008),
 ("33",-82.870,39.880),("62",-83.114,39.856),("23",-83.002,39.852),("104",-83.027,39.862),("104",-82.966,39.915),("23",-82.996,39.924),("62",-83.058,39.924),
 ("40",-83.065,39.955),("16",-82.870,39.976),("3",-82.938,40.057),("62",-82.942,40.083),("23",-82.999,40.023),("40",-82.860,39.9545),("62",-82.830,40.068)]

LAND = "#E9E8E2"
TEXT_MAP = "#4E4336"


def flat(lines):
    xs, ys = [], []
    for ln in lines:
        xs += [p[0] for p in ln] + [None]
        ys += [p[1] for p in ln] + [None]
    return xs, ys


fig = go.Figure()


def add_panel(n, labels):
    ax = dict(xaxis="x" if n == 1 else f"x{n}", yaxis="y" if n == 1 else f"y{n}", hoverinfo="skip", showlegend=False)
    def line(lines, color, width, **kw):
        x, y = flat(lines)
        fig.add_trace(go.Scatter(x=x, y=y, mode="lines", line=dict(color=color, width=width), **ax, **kw))
    line(PARKS, "rgba(0,0,0,0)", 0, fill="toself", fillcolor="#CDE5A5")
    line(WATER, "rgba(0,0,0,0)", 0, fill="toself", fillcolor="#A6CBF9")
    line(RIVERS, "#A6CBF9", 1.6)
    line(WHITE_ROADS, "#FFFFFF", 2)
    line(LIGHT_HIGHWAYS, "#F7D99A", 4)
    line(HIGHWAYS, "#E3B978", 5.5)
    line(HIGHWAYS, "#F5CF8E", 3)
    fig.add_trace(go.Scatter(x=[s[1] for s in SHIELDS], y=[s[2] for s in SHIELDS], text=[s[0] for s in SHIELDS], mode="markers+text",
                             marker=dict(symbol="square", size=[30 if len(s[0]) == 3 else 26 for s in SHIELDS], color="white", line=dict(color="#6E6E6E", width=1.5)),
                             textfont=dict(family="Roboto", color="#333333", size=17), textposition="middle center", **ax))
    x, y = zip(*SERVICE_AREA)
    fig.add_trace(go.Scatter(x=x, y=y, mode="lines", line=dict(width=0, color="rgba(0,0,0,0)"), fill="toself", fillcolor="rgba(127,127,124,0.5)", **ax))
    line(TRACTS, "rgba(255,255,255,0.55)", 0.8)
    fig.add_trace(go.Scatter(x=[l[1] for l in LABELS], y=[l[2] for l in LABELS], text=[l[0] for l in LABELS], mode="text",
                             textfont=dict(family="Roboto", color=[TEXT_MAP] * len(LABELS), size=[l[3] for l in LABELS]), **ax))
    fig.add_trace(go.Scatter(x=[l[1] for l in SMALL_LABELS], y=[l[2] for l in SMALL_LABELS], text=[l[0] for l in SMALL_LABELS], mode="text",
                             textfont=dict(family="Roboto", color="#73655A", size=17), **ax))
    fig.add_trace(go.Scatter(x=[s[1] for s in INTERSTATES], y=[s[2] for s in INTERSTATES], text=[s[0] for s in INTERSTATES], mode="markers+text",
                             marker=dict(symbol="pentagon", angle=180, size=[44 if len(s[0]) == 3 else 36 for s in INTERSTATES], color="#3B70B4", line=dict(color="#C0595A", width=1)),
                             textfont=dict(family="Roboto", color="white", size=17), textposition="middle center", **ax))
    fig.add_trace(go.Scatter(x=LON, y=LAT, mode="markers", marker=dict(symbol="triangle-up", size=16, color=[PALETTE[c] for c in labels], line=dict(width=0)), **ax))


add_panel(1, METIS)
add_panel(2, GRACLUS)


def add_key(n):
    ax = dict(xaxis=f"x{n}", yaxis=f"y{n}", hoverinfo="skip", showlegend=False)
    fig.add_trace(go.Scatter(x=[0] * 18, y=COMMUNITIES, mode="markers", marker=dict(symbol="triangle-up", size=16, color=PALETTE, line=dict(width=0)), **ax))
    fig.add_trace(go.Scatter(x=[0.65] * 18, y=COMMUNITIES, text=[str(c) for c in COMMUNITIES], mode="text", textposition="middle right",
                             textfont=dict(family="Liberation Sans", size=22, color="black"), **ax))


add_key(3)
add_key(4)


def py(top, bottom):
    return [1 - bottom / H, 1 - top / H]


def caption(text, x_px, y_px, font, **kw):
    return dict(text=text, x=x_px / W, y=1 - y_px / H, xref="paper", yref="paper", yanchor="middle", showarrow=False, font=font, **kw)


axis_font = dict(family="Liberation Sans", size=21, color="black")
title_font = dict(family="Liberation Sans", size=28, color="black")
xbase = dict(range=XLIM, domain=[120 / W, 1031 / W], tickvals=X_TICKS, ticktext=["\u221283.1", "\u221283.0", "\u221282.9"], showgrid=False, zeroline=False, automargin=False,
             ticks="outside", ticklen=6, tickwidth=2.5, tickcolor="#111111", tickfont=axis_font, title=dict(text="Longitude", font=title_font, standoff=12))
ybase = dict(range=YLIM, tickvals=Y_TICKS, tickformat=".2f", showgrid=False, zeroline=False, automargin=False, ticks="outside", ticklen=6, tickwidth=2.5, tickcolor="#111111",
             tickfont=axis_font, title=dict(text="Latitude", font=title_font, standoff=14))
key_x = dict(domain=[1071 / W, 1180 / W], range=[-21 / 33, 88 / 33 - 21 / 33], visible=False, fixedrange=True)
key_y = dict(range=[17.5, -20 / 42], visible=False, fixedrange=True)


def land(xref, yref):
    return dict(type="rect", xref=xref + " domain", yref=yref + " domain", x0=0, x1=1, y0=0, y1=1, fillcolor=LAND, line=dict(width=0), layer="below")


def key_band(top, bottom):
    return dict(type="rect", xref="paper", yref="paper", x0=1071 / W, x1=1113 / W, y0=1 - bottom / H, y1=1 - top / H, fillcolor="#F2F2F2", line=dict(width=0), layer="below")


community_font = dict(family="Liberation Sans", size=26, color="black")
sub_font = dict(family="Liberation Serif", size=42, color="black")
city_font = dict(family="Roboto", size=35, color="#3A3226")
fig.update_layout(
    width=W, height=H, margin=dict(l=0, r=0, t=0, b=0), paper_bgcolor="white", plot_bgcolor="rgba(0,0,0,0)", showlegend=False,
    xaxis=dict(**xbase, anchor="y"), yaxis=dict(**ybase, domain=py(9, 1050), anchor="x"),
    xaxis2=dict(**xbase, anchor="y2"), yaxis2=dict(**ybase, domain=py(1201, 2241), anchor="x2"),
    xaxis3=dict(**key_x, anchor="y3"), yaxis3=dict(**key_y, domain=py(171, 926), anchor="x3"),
    xaxis4=dict(**key_x, anchor="y4"), yaxis4=dict(**key_y, domain=py(1363, 2118), anchor="x4"),
    shapes=[land("x", "y"), land("x2", "y2"), key_band(171, 926), key_band(1363, 2118)],
    annotations=[
        dict(text="<b>Columbus</b>", x=-82.997, y=39.96, xref="x", yref="y", showarrow=False, font=city_font),
        dict(text="<b>Columbus</b>", x=-82.997, y=39.96, xref="x2", yref="y2", showarrow=False, font=city_font),
        caption("Community", 1071, 145, community_font, xanchor="left"),
        caption("Community", 1071, 1336, community_font, xanchor="left"),
        caption("(a) Metis", 561, 1158, sub_font, xanchor="center"),
        caption("(b) Graclus", 564, 2347, sub_font, xanchor="center"),
    ],
)
fig.write_html("out.html", config={"displayModeBar": False}, post_script="document.body.style.margin='0';")
